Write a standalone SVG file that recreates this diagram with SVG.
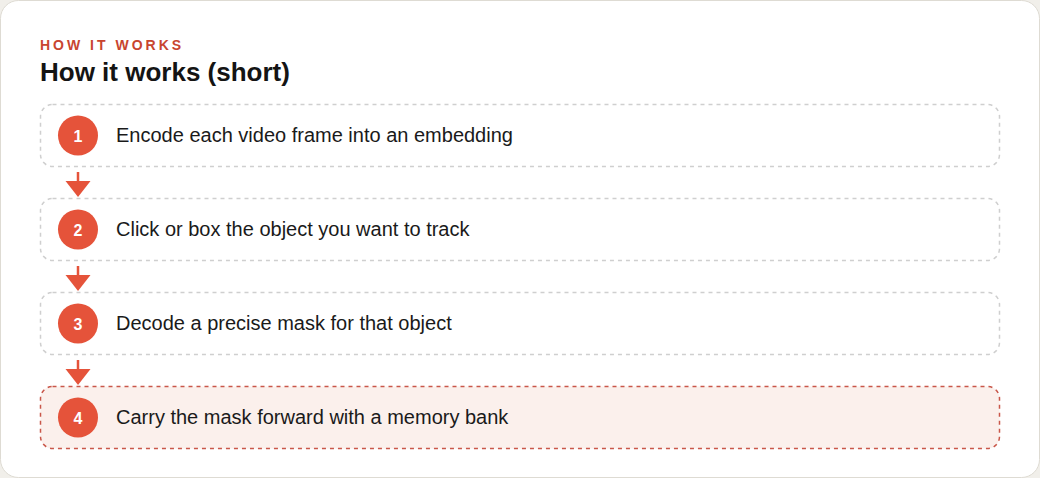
<svg xmlns="http://www.w3.org/2000/svg" width="1040" height="478" viewBox="0 0 1040 478">
<style>
.eyebrow{font-family:"Liberation Sans",Arial,sans-serif;font-size:14px;font-weight:bold;letter-spacing:3px;fill:#c8452f}
.title{font-family:"Liberation Sans",Arial,sans-serif;font-size:26px;font-weight:bold;fill:#141414}
.box{fill:#ffffff;stroke:#cfcfcf;stroke-width:1.5;stroke-dasharray:4 4}
.box.hl{fill:#fbf0ec;stroke:#c9574a}
.dot{fill:#e5533a}
.num{font-family:"Liberation Sans",Arial,sans-serif;font-size:16px;font-weight:bold;fill:#ffffff;text-anchor:middle}
.lbl{font-family:"Liberation Sans",Arial,sans-serif;font-size:20px;fill:#1a1a1a}
.conn line{stroke:#e5533a;stroke-width:2.5}
.conn polygon{fill:#e5533a}
</style>
<rect x="0" y="0" width="1040" height="478" fill="#f1efea"/>
<rect x="0.5" y="0.5" width="1039" height="477" rx="18" fill="#ffffff" stroke="#dedbd3"/>
<text class="eyebrow" x="40" y="50">HOW IT WORKS</text>
<text class="title" x="40" y="81">How it works (short)</text>
<g id="step1">
<rect class="box" x="40.5" y="104.5" width="959" height="62" rx="12"/>
<circle class="dot" cx="78" cy="135.5" r="20"/>
<text class="num" x="78" y="141.5">1</text>
<text class="lbl" x="116" y="142">Encode each video frame into an embedding</text>
</g>
<g id="step2">
<rect class="box" x="40.5" y="198.5" width="959" height="62" rx="12"/>
<circle class="dot" cx="78" cy="229.5" r="20"/>
<text class="num" x="78" y="235.5">2</text>
<text class="lbl" x="116" y="236">Click or box the object you want to track</text>
</g>
<g id="step3">
<rect class="box" x="40.5" y="292.5" width="959" height="62" rx="12"/>
<circle class="dot" cx="78" cy="323.5" r="20"/>
<text class="num" x="78" y="329.5">3</text>
<text class="lbl" x="116" y="330">Decode a precise mask for that object</text>
</g>
<g id="step4">
<rect class="box hl" x="40.5" y="386.5" width="959" height="62" rx="12"/>
<circle class="dot" cx="78" cy="417.5" r="20"/>
<text class="num" x="78" y="423.5">4</text>
<text class="lbl" x="116" y="424">Carry the mask forward with a memory bank</text>
</g>
<g class="conn" id="connectors">
<line x1="78" y1="172" x2="78" y2="183"/>
<polygon points="65.5,181 90.5,181 78,197"/>
<line x1="78" y1="266" x2="78" y2="277"/>
<polygon points="65.5,275 90.5,275 78,291"/>
<line x1="78" y1="360" x2="78" y2="371"/>
<polygon points="65.5,369 90.5,369 78,385"/>
</g>
</svg>
